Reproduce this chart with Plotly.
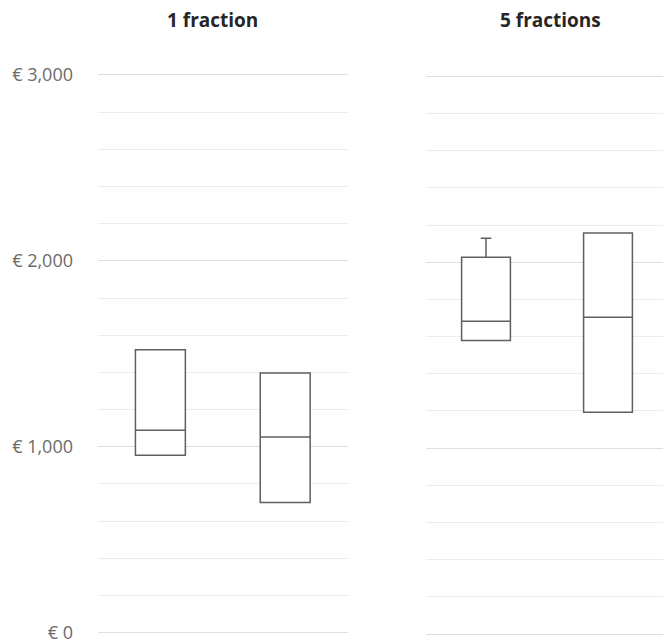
import plotly.graph_objects as go

# Cost per patient, summary statistics per group (EUR)
panels = ["1 fraction", "5 fractions"]
groups = [0, 1]

q1_1f = [954, 701]
median_1f = [1089, 1053]
q3_1f = [1522, 1397]
low_1f = [954, 701]
high_1f = [1522, 1397]

q1_5f = [1579, 1193]
median_5f = [1683, 1705]
q3_5f = [2027, 2158]
low_5f = [1579, 1193]
high_5f = [2130, 2158]

tick_vals = [0, 1000, 2000, 3000]
tick_text = ["€ 0", "€ 1,000", "€ 2,000", "€ 3,000"]

W, H = 663, 643
ML, MR, MT, MB = 98, 0, 72, 6
plot_w = W - ML - MR
plot_h = H - MT - MB

# value range padded a little so the edge gridlines are drawn
PAD = 16
y_range = [-PAD, 3000 + PAD]
px_per_unit = (632.7 - 75.0) / 3000.0


def y_domain(top_px, bottom_px):
    top = top_px - PAD * px_per_unit
    bottom = bottom_px + PAD * px_per_unit
    return [(H - MB - bottom) / plot_h, (H - MB - top) / plot_h]


line_col = "#5f5f5f"
fig = go.Figure()

box_style = dict(
    width=0.4,
    whiskerwidth=0.22,
    line=dict(color=line_col, width=1.5),
    fillcolor="white",
    boxpoints=False,
    hoverinfo="skip",
    showlegend=False,
)

fig.add_trace(go.Box(
    x=groups, q1=q1_1f, median=median_1f, q3=q3_1f,
    lowerfence=low_1f, upperfence=high_1f,
    xaxis="x", yaxis="y", **box_style,
))
fig.add_trace(go.Box(
    x=groups, q1=q1_5f, median=median_5f, q3=q3_5f,
    lowerfence=low_5f, upperfence=high_5f,
    xaxis="x2", yaxis="y2", **box_style,
))

minor_grid = dict(dtick=200, tick0=0, showgrid=True, gridcolor="#ececec", gridwidth=1)

yaxis_common = dict(
    range=y_range,
    tickvals=tick_vals,
    showgrid=True,
    gridcolor="#dedede",
    gridwidth=1,
    zeroline=False,
    showline=False,
    minor=minor_grid,
    fixedrange=True,
    automargin=False,
)

x1_end = (347.6 - ML) / plot_w
x2_start = (426 - ML) / plot_w

# category spacing in pixels for the right panel
cat2 = 122.0
x2_left = (426 - 486) / cat2
x2_right = (W - 486) / cat2

fig.update_layout(
    width=W,
    height=H,
    margin=dict(l=ML, r=MR, t=MT, b=MB, autoexpand=False),
    paper_bgcolor="white",
    plot_bgcolor="white",
    xaxis=dict(domain=[0, x1_end], range=[-0.5, 1.5], showticklabels=False, automargin=False,
               showgrid=False, zeroline=False, showline=False, fixedrange=True),
    xaxis2=dict(domain=[x2_start, 1], range=[x2_left, x2_right], showticklabels=False, automargin=False,
                showgrid=False, zeroline=False, showline=False, fixedrange=True),
    yaxis=dict(domain=y_domain(75.0, 632.7), ticktext=tick_text,
               tickfont=dict(family="Open Sans, Liberation Sans, sans-serif", size=18, color="#6b6b6b"),
               ticklabelstandoff=24, ticklabeloverflow="allow",
               anchor="x", **yaxis_common),
    yaxis2=dict(domain=y_domain(76.5, 634.0), showticklabels=False,
                anchor="x2", **yaxis_common),
    annotations=[
        dict(text="<b>" + panels[0] + "</b>", x=212, y=20, xref="paper", yref="paper",
             showarrow=False, font=dict(family="Open Sans, sans-serif", size=19, color="#262626")),
        dict(text="<b>" + panels[1] + "</b>", x=550, y=20, xref="paper", yref="paper",
             showarrow=False, font=dict(family="Open Sans, sans-serif", size=19, color="#262626")),
    ],
)

# annotation positions given in pixels -> convert to paper fractions
for ann in fig.layout.annotations:
    px, py = ann.x, ann.y
    ann.x = (px - ML) / plot_w
    ann.y = (H - MB - py) / plot_h
    ann.xanchor = "center"
    ann.yanchor = "middle"

fig.write_html("out.html")
